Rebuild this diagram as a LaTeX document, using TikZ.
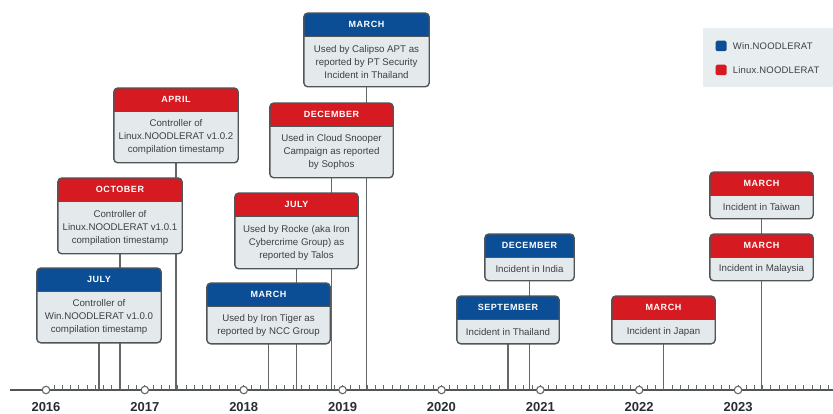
\documentclass[tikz,border=0pt]{standalone}
\usepackage{fontspec}
\setmainfont{Liberation Sans}
\usepackage{xcolor}
\definecolor{winblue}{RGB}{12,78,150}
\definecolor{linred}{RGB}{214,26,33}
\definecolor{boxgray}{RGB}{228,234,236}
\definecolor{framegray}{RGB}{80,85,88}
\definecolor{stemgray}{RGB}{100,103,106}
\definecolor{textgray}{RGB}{62,64,67}
\definecolor{leggray}{RGB}{232,237,239}
\usetikzlibrary{positioning}
\pgfdeclarelayer{stems}
\pgfdeclarelayer{boxes}
\pgfsetlayers{stems,boxes,main}

\tikzstyle{evhead} = [anchor=north, minimum height=23pt, inner sep=0pt,
  text=white, font=\fontsize{9}{10}\selectfont\bfseries\addfontfeature{LetterSpace=6}]
\tikzstyle{evbody} = [anchor=north, inner sep=0pt, align=center,
  text=textgray, font=\fontsize{9.7}{13}\selectfont]
\tikzstyle{evframe} = [draw=framegray, line width=1.4pt, rounded corners=4pt]
\tikzstyle{stem} = [draw=stemgray, line width=1.9pt]
\tikzstyle{year} = [circle, draw=stemgray, fill=white, line width=1.1pt,
  inner sep=0pt, minimum size=7.5pt]
\tikzstyle{yearlabel} = [text=textgray!70!black,
  font=\fontsize{13}{13}\selectfont\bfseries]
\tikzstyle{legkey} = [fill, rounded corners=1.5pt, inner sep=0pt,
  minimum width=11pt, minimum height=10.5pt]
\tikzstyle{legtext} = [text=textgray, inner sep=0pt,
  font=\fontsize{9.5}{10}\selectfont\addfontfeature{LetterSpace=2}]

% name, x, top, width, body height, colour, month, text
\newcommand{\evbox}[8]{%
  \node[evhead, minimum width=#4] (#1h) at (#2,#3) {#7};
  \node[evbody, minimum width=#4, minimum height=#5pt] (#1) at (#1h.south) {#8};
  \begin{pgfonlayer}{boxes}
    \fill[boxgray, rounded corners=4pt] (#1h.north west) rectangle (#1.south east);
    \begin{scope}
      \clip[rounded corners=4pt] (#1h.north west) rectangle (#1.south east);
      \fill[#6] (#1h.north west) rectangle (#1h.south east);
    \end{scope}
    \draw[framegray, line width=0.6pt] (#1h.south west) -- (#1h.south east);
    \draw[evframe] (#1h.north west) rectangle (#1.south east);
  \end{pgfonlayer}
}

\begin{document}
\begin{tikzpicture}[x=1pt, y=-1pt]
  \useasboundingbox (0,0) rectangle (833,414);
  % time axis
  \coordinate (axis) at (0,390);
  \draw[framegray, line width=2.4pt] (10,390) -- (833,390);
  \foreach \m in {1,...,95}
    \draw[stemgray, line width=1pt] (46+\m*8.238,390) -- ++(0,-5);
  \foreach \yr [count=\i from 0] in {2016,...,2023} {
    \node[year] (y\yr) at (46+\i*98.86,390) {};
    \node[yearlabel] (l\yr) at (46+\i*98.86,407) {\yr};
  }
  % 2016 - 2017
  \evbox{jul16}{99}{268}{124}{51}{winblue}{JULY}
    {Controller of\\Win.NOODLERAT v1.0.0\\compilation timestamp}
  \evbox{oct16}{120}{178}{124}{52}{linred}{OCTOBER}
    {Controller of\\Linux.NOODLERAT v1.0.1\\compilation timestamp}
  \evbox{apr17}{176}{88}{124}{51}{linred}{APRIL}
    {Controller of\\Linux.NOODLERAT v1.0.2\\compilation timestamp}
  % 2018 - 2019
  \evbox{mar18}{268.5}{283}{123}{37}{winblue}{MARCH}
    {Used by Iron Tiger as\\reported by NCC Group}
  \evbox{jul18}{296.5}{193}{123}{52}{linred}{JULY}
    {Used by Rocke (aka Iron\\Cybercrime Group) as\\reported by Talos}
  \evbox{dec18}{331.5}{103}{123}{51}{linred}{DECEMBER}
    {Used in Cloud Snooper\\Campaign as reported\\by Sophos}
  \evbox{mar19}{366.5}{13}{125}{50}{winblue}{MARCH}
    {Used by Calipso APT as\\reported by PT Security\\Incident in Thailand}
  % 2020 - 2023
  \evbox{sep20}{508}{296}{102}{24}{winblue}{SEPTEMBER}{Incident in Thailand}
  \evbox{dec20}{529.5}{234}{89}{23}{winblue}{DECEMBER}{Incident in India}
  \evbox{mar22}{663.5}{296}{103}{24}{linred}{MARCH}{Incident in Japan}
  \evbox{mal23}{761.5}{234}{103}{23}{linred}{MARCH}{Incident in Malaysia}
  \evbox{twn23}{761.5}{172}{103}{23}{linred}{MARCH}{Incident in Taiwan}
  % stems
  \begin{pgfonlayer}{stems}
    \foreach \ev in {jul16,oct16,apr17,mar18,jul18,dec18,mar19,sep20,dec20,mar22,mal23}
      \draw[stem] (\ev.south) -- (\ev.south |- axis);
    \draw[stem] (twn23.south) -- (mal23h.north);
  \end{pgfonlayer}
  % legend
  \node[fill=leggray, inner sep=0pt, minimum width=130pt, minimum height=59pt,
    anchor=north west] (legend) at (703,28) {};
  \node[legkey, fill=winblue] (kwin) at (721,46) {};
  \node[legtext, right=6pt of kwin] (twin) {Win.NOODLERAT};
  \node[legkey, fill=linred] (klin) at (721,70) {};
  \node[legtext, right=6pt of klin] (tlin) {Linux.NOODLERAT};
\end{tikzpicture}
\end{document}
